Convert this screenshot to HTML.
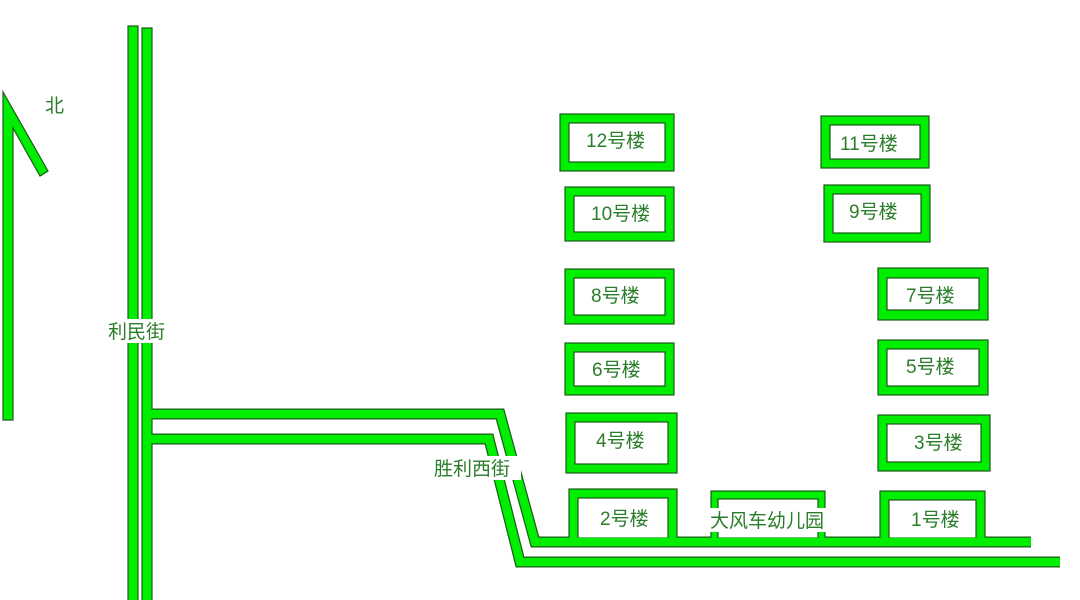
<!DOCTYPE html>
<html><head><meta charset="utf-8"><style>
html,body{margin:0;padding:0;background:#fff;width:1080px;height:600px;overflow:hidden}
svg{display:block}
text{font-family:"Liberation Sans","Noto Sans CJK SC",sans-serif;font-size:19px;fill:#2a7d2a}
</style></head><body>
<svg width="1080" height="600" viewBox="0 0 1080 600">
<g stroke="#1a5a1a" stroke-width="1.2">
<polygon points="3,92 3,420 13,420 13,128 40,176 48,171" fill="#00ee00"/>
<rect x="128" y="26" width="10" height="580" fill="#00ee00"/>
<rect x="142" y="28" width="10" height="580" fill="#00ee00"/>
</g>
<g fill="none" stroke-linejoin="miter">
<polyline points="152,414 500,414 535,542 1031,542" stroke="#1a5a1a" stroke-width="11"/>
<polyline points="152,439 489,439 520,562 1060,562" stroke="#1a5a1a" stroke-width="11"/>
</g>
<g stroke="#1a5a1a" stroke-width="1.2">
<rect x="560" y="114" width="114" height="57" fill="#00ee00"/><rect x="569" y="123" width="96" height="39" fill="#fff"/>
<rect x="565" y="187" width="109" height="54" fill="#00ee00"/><rect x="574" y="196" width="91" height="36" fill="#fff"/>
<rect x="565" y="269" width="109" height="55" fill="#00ee00"/><rect x="574" y="278" width="91" height="37" fill="#fff"/>
<rect x="565" y="343" width="109" height="52" fill="#00ee00"/><rect x="574" y="352" width="91" height="34" fill="#fff"/>
<rect x="566" y="413" width="111" height="60" fill="#00ee00"/><rect x="575" y="422" width="93" height="42" fill="#fff"/>
<rect x="821" y="116" width="108" height="52" fill="#00ee00"/><rect x="830" y="125" width="90" height="34" fill="#fff"/>
<rect x="824" y="185" width="106" height="57" fill="#00ee00"/><rect x="833" y="194" width="88" height="39" fill="#fff"/>
<rect x="878" y="268" width="110" height="52" fill="#00ee00"/><rect x="887" y="278" width="92" height="32" fill="#fff"/>
<rect x="878" y="340" width="110" height="55" fill="#00ee00"/><rect x="887" y="349" width="92" height="37" fill="#fff"/>
<rect x="878" y="415" width="112" height="56" fill="#00ee00"/><rect x="887" y="424" width="94" height="38" fill="#fff"/>
<rect x="569" y="489" width="108" height="55" fill="#00ee00"/><rect x="578" y="498" width="90" height="40" fill="#fff"/>
<rect x="711" y="491" width="114" height="53" fill="#00ee00"/><rect x="718" y="499" width="100" height="39" fill="#fff"/>
<rect x="880" y="491" width="105" height="53" fill="#00ee00"/><rect x="889" y="500" width="87" height="38" fill="#fff"/>
</g>
<g fill="none">
<polyline points="145,414 500,414 535,542 1031,542" stroke="#00ee00" stroke-width="8.6"/>
<polyline points="145,439 489,439 520,562 1060,562" stroke="#00ee00" stroke-width="8.6"/>
</g>
<rect x="106" y="319" width="66" height="24" fill="#fff"/>
<text x="108" y="338">利民街</text>
<text x="45" y="112">北</text>
<rect x="432" y="456" width="89" height="24" fill="#fff"/>
<text x="434" y="475">胜利西街</text>
<rect x="709" y="508" width="125" height="24" fill="#fff"/>
<text x="710" y="527">大风车幼儿园</text>
<text x="586" y="147">12号楼</text>
<text x="591" y="220">10号楼</text>
<text x="591" y="302">8号楼</text>
<text x="592" y="376">6号楼</text>
<text x="596" y="447">4号楼</text>
<text x="600" y="525">2号楼</text>
<text x="840" y="150">11号楼</text>
<text x="849" y="218">9号楼</text>
<text x="906" y="302">7号楼</text>
<text x="906" y="373">5号楼</text>
<text x="914" y="449">3号楼</text>
<text x="911" y="526">1号楼</text>
</svg>
</body></html>
